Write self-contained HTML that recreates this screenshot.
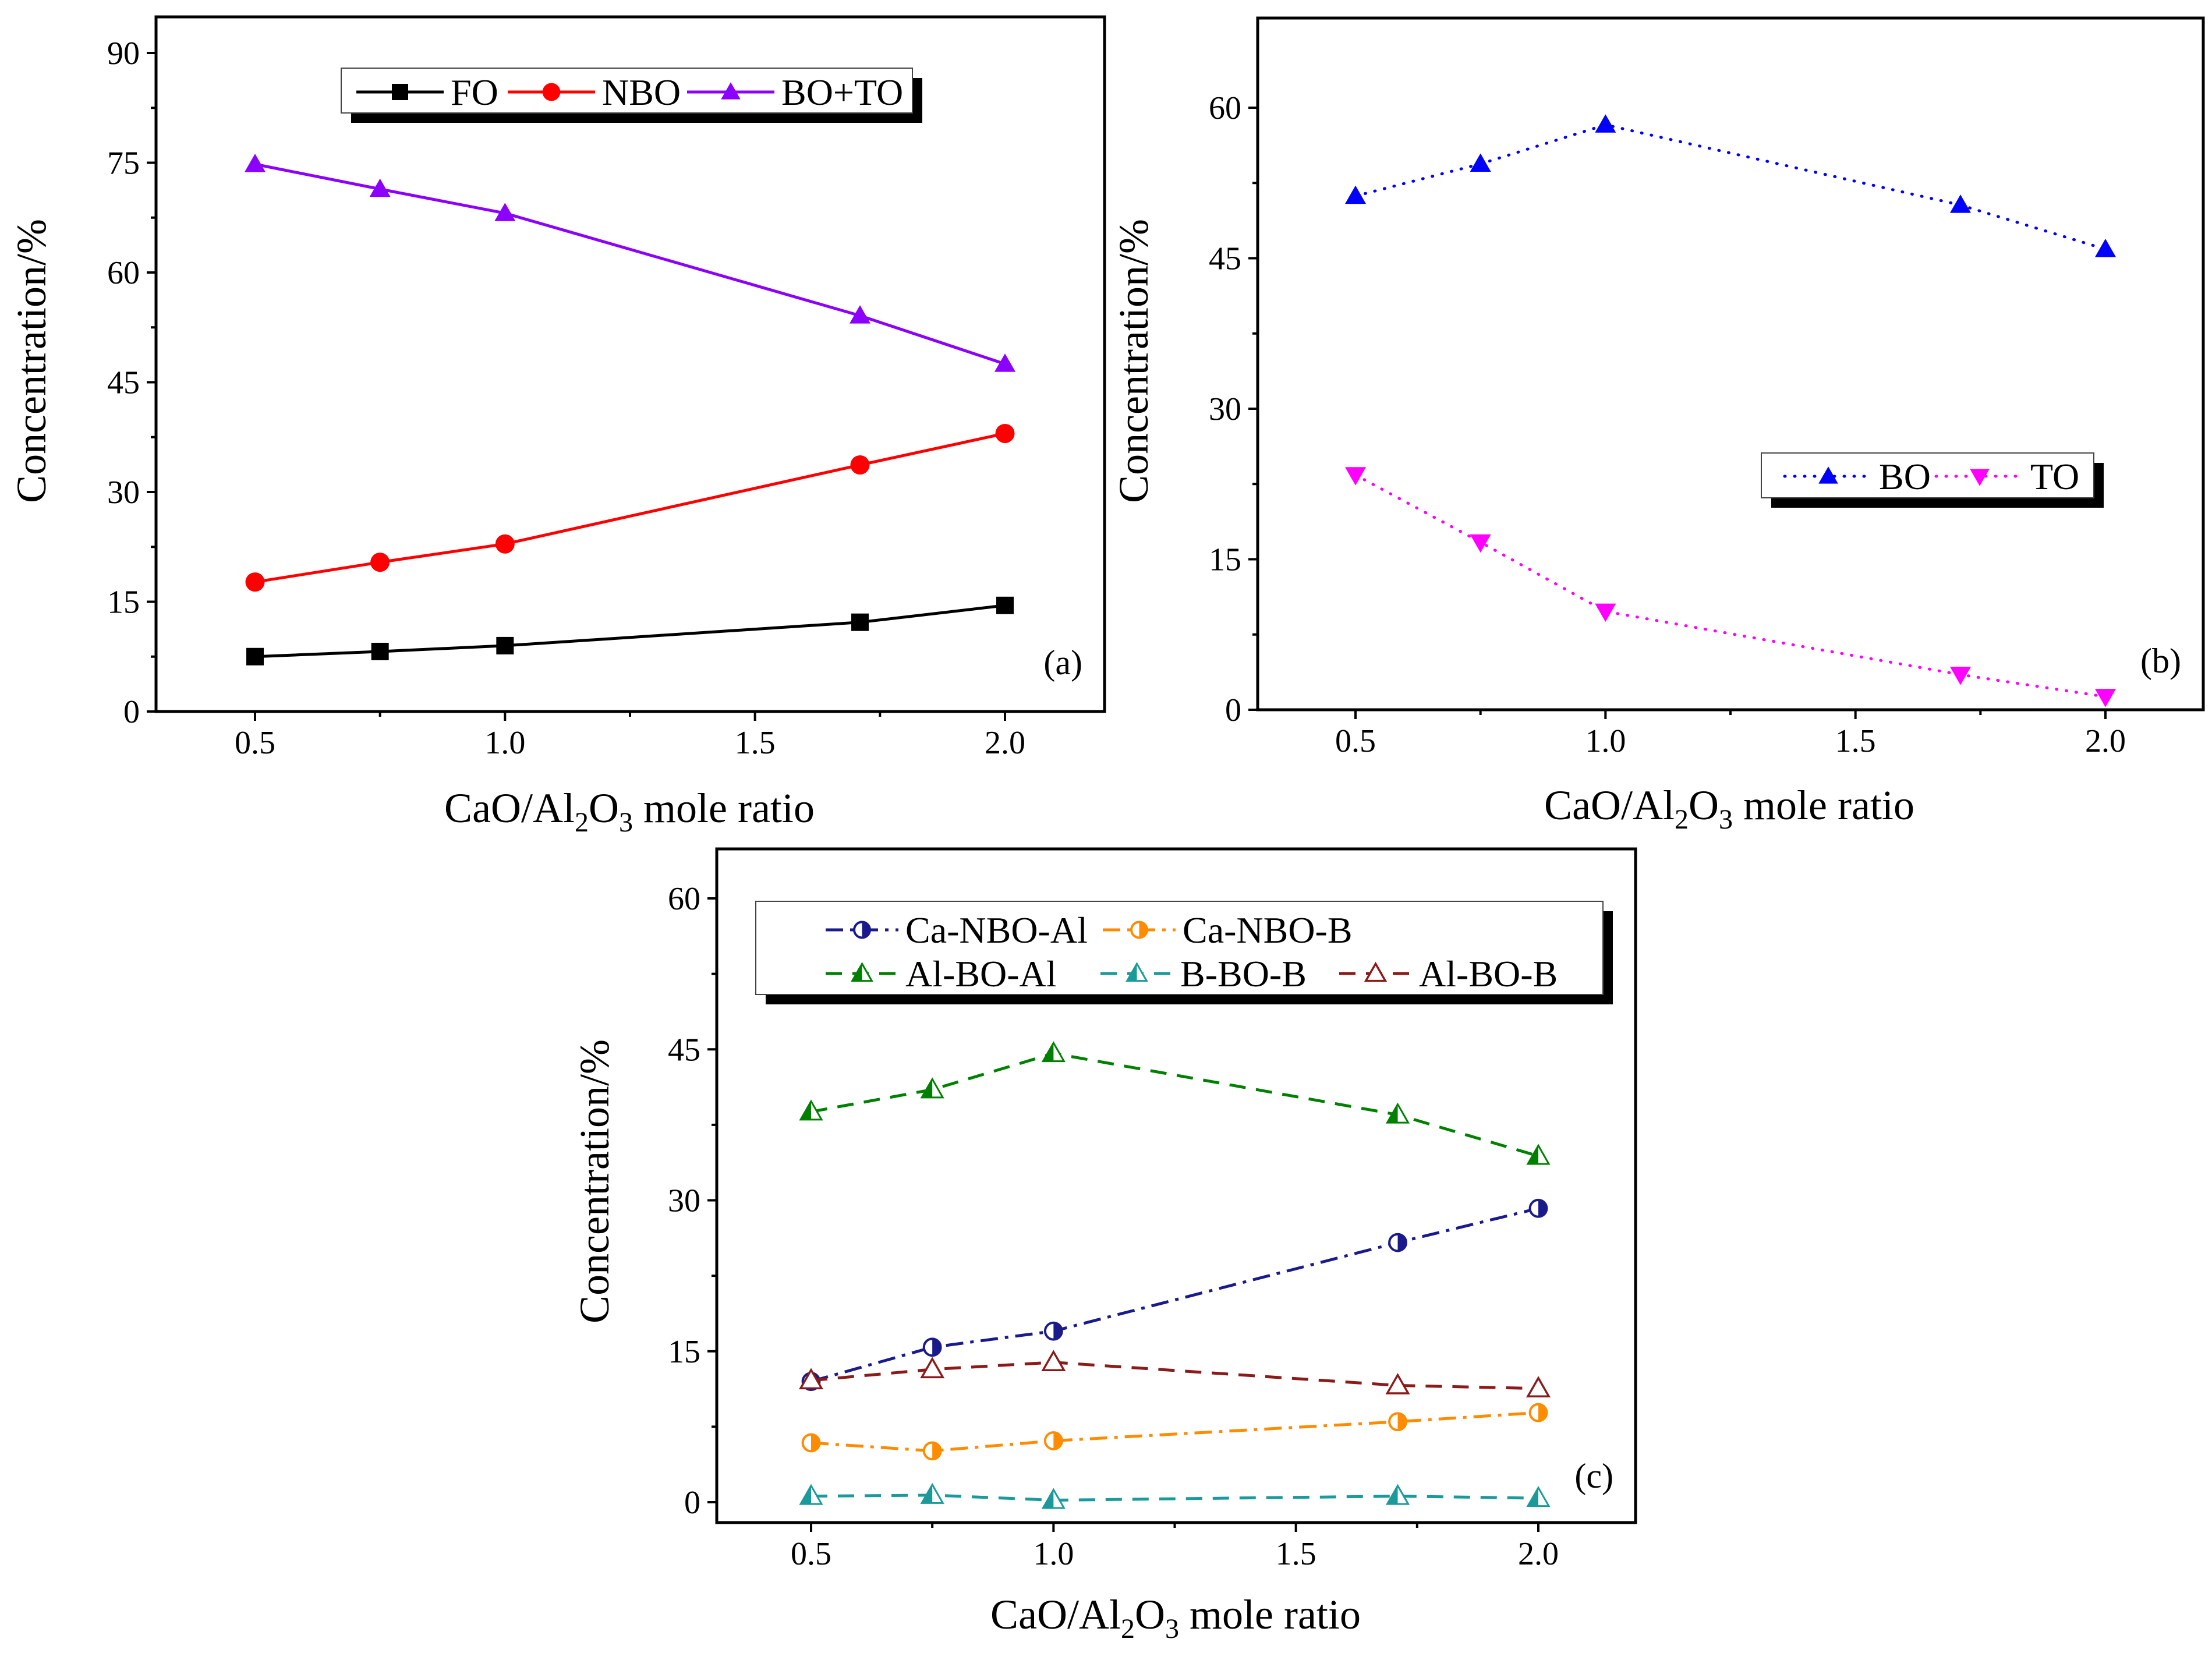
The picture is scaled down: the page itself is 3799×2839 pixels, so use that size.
<!DOCTYPE html>
<html><head><meta charset="utf-8"><style>
html,body{margin:0;padding:0;background:#fff}
svg{display:block}
svg text{font-family:"Liberation Serif","DejaVu Serif","Times New Roman",Times,serif}
</style></head><body>
<svg id="fig" width="3799" height="2839" viewBox="0 0 3799 2839" xmlns="http://www.w3.org/2000/svg"></svg>
<script>
const xCats=[0.5,0.75,1.0,1.71,2.0];
const xTickVals=[0.5,1.0,1.5,2.0];
const xTickLabels=['0.5','1.0','1.5','2.0'];
// panel a
const aTicks=[0,15,30,45,60,75,90];
const aFO=[7.5,8.2,9.0,12.2,14.5];
const aNBO=[17.7,20.4,22.9,33.7,38.0];
const aBOTO=[74.8,71.4,68.1,54.1,47.5];
// panel b
const bTicks=[0,15,30,45,60];
const bBO=[51.2,54.4,58.3,50.3,45.9];
const bTO=[23.4,16.7,9.8,3.5,1.3];
// panel c
const cTicks=[0,15,30,45,60];
const cCaNBOAl=[12.0,15.4,17.0,25.8,29.2];
const cCaNBOB=[5.9,5.1,6.1,8.0,8.9];
const cAlBOAl=[38.8,41.0,44.6,38.5,34.4];
const cBBOB=[0.6,0.7,0.2,0.6,0.4];
const cAlBOB=[12.1,13.2,13.9,11.6,11.3];

const NS='http://www.w3.org/2000/svg';
const svg=document.getElementById('fig');
function el(tag,attrs,parent,text){const e=document.createElementNS(NS,tag);for(const k in attrs)e.setAttribute(k,attrs[k]);if(tag==='text')e.style.fontFamily='"Liberation Serif","DejaVu Serif","Times New Roman",serif';if(text!==undefined)e.textContent=text;(parent||svg).appendChild(e);return e;}

function marker(g,kind,x,y,color,s){
  let m;
  if(kind==='square'){m=el('rect',{x:x-s*0.5,y:y-s*0.5,width:s,height:s,fill:color},g);}
  else if(kind==='circle'){m=el('circle',{cx:x,cy:y,r:s*0.55,fill:color},g);}
  else if(kind==='tri'){m=el('polygon',{points:`${x},${y-s*0.6} ${x-s*0.6},${y+s*0.45} ${x+s*0.6},${y+s*0.45}`,fill:color},g);}
  else if(kind==='dtri'){m=el('polygon',{points:`${x},${y+s*0.6} ${x-s*0.6},${y-s*0.45} ${x+s*0.6},${y-s*0.45}`,fill:color},g);}
  else if(kind==='halfcircle'){
    m=el('g',{},g);
    el('circle',{cx:x,cy:y,r:s*0.48,fill:'#fff',stroke:color,'stroke-width':4},m);
    el('path',{d:`M${x},${y-s*0.48} A${s*0.48},${s*0.48} 0 0 1 ${x},${y+s*0.48} Z`,fill:color},m);
  }
  else if(kind==='halftri'){
    m=el('g',{},g);
    el('polygon',{points:`${x},${y-s*0.6} ${x-s*0.6},${y+s*0.45} ${x+s*0.6},${y+s*0.45}`,fill:'#fff',stroke:color,'stroke-width':3},m);
    el('polygon',{points:`${x},${y-s*0.6} ${x-s*0.6},${y+s*0.45} ${x},${y+s*0.45}`,fill:color},m);
  }
  else if(kind==='opentri'){m=el('polygon',{points:`${x},${y-s*0.6} ${x-s*0.6},${y+s*0.45} ${x+s*0.6},${y+s*0.45}`,fill:'#fff',stroke:color,'stroke-width':3.5},g);}
  return m;
}

function panel(cfg){
  const g=el('g',{});
  
  
  const X=v=>cfg.x0+(v-0.5)*(cfg.x1-cfg.x0)/1.5;
  const Y=v=>cfg.y0+(v-cfg.vmin)*(cfg.yTop-cfg.y0)/(cfg.vmax-cfg.vmin);
  const f=el('rect',{x:cfg.L,y:cfg.T,width:cfg.R-cfg.L,height:cfg.B-cfg.T,fill:'#fff',stroke:'#000','stroke-width':5},g);
  
  const step=cfg.yTicks[1]-cfg.yTicks[0];
  cfg.yTicks.forEach((t,i)=>{
    const y=Y(t);
    el('line',{x1:cfg.L-16,y1:y,x2:cfg.L,y2:y,stroke:'#000','stroke-width':4},g);
    const tl=el('text',{x:cfg.L-28,y:y+19,'text-anchor':'end','font-size':56},g,String(t));
    
    if(i<cfg.yTicks.length-1){const ym=Y(t+step/2);el('line',{x1:cfg.L-9,y1:ym,x2:cfg.L,y2:ym,stroke:'#000','stroke-width':4},g);}
  });
  xTickVals.forEach((v,i)=>{
    const x=X(v);
    el('line',{x1:x,y1:cfg.B,x2:x,y2:cfg.B+16,stroke:'#000','stroke-width':4},g);
    const tl=el('text',{x:x,y:cfg.B+72,'text-anchor':'middle','font-size':56},g,xTickLabels[i]);
    
    if(i<xTickVals.length-1){const xm=X(v+0.25);el('line',{x1:xm,y1:cfg.B,x2:xm,y2:cfg.B+9,stroke:'#000','stroke-width':4},g);}
  });
  const xt=el('text',{x:cfg.xtX,y:cfg.xtY,'text-anchor':'middle','font-size':72},g);
  
  xt.innerHTML='CaO/Al<tspan font-size="48" dy="16">2</tspan><tspan dy="-16">O</tspan><tspan font-size="48" dy="16">3</tspan><tspan dy="-16"> mole ratio</tspan>';
  const yt=el('text',{x:0,y:0,'text-anchor':'middle','font-size':72,transform:`translate(${cfg.ytX},${cfg.ytY}) rotate(-90)`},g,'Concentration/%');
  
  const pl=el('text',{x:cfg.R-38,y:cfg.labY,'text-anchor':'end','font-size':60},g,cfg.label);
  
  cfg.series.forEach(s=>{
    const sg=el('g',{},g);
    
    const pts=s.data.map((v,i)=>X(xCats[i])+','+Y(v)).join(' ');
    const ln=el('polyline',{points:pts,fill:'none',stroke:s.color,'stroke-width':5,'stroke-dasharray':s.dash||'none','stroke-linecap':s.cap||'butt'},sg);
    
    s.data.forEach((v,i)=>{
      const m=marker(sg,s.marker,X(xCats[i]),Y(v),s.color,30);
      
    });
  });
  const lg=el('g',{},g);
  
  const Lb=cfg.legend;
  el('rect',{x:Lb.x+17,y:Lb.y+17,width:Lb.w,height:Lb.h,fill:'#000'},lg);
  el('rect',{x:Lb.x,y:Lb.y,width:Lb.w,height:Lb.h,fill:'#fff',stroke:'#444','stroke-width':2},lg);
  Lb.items.forEach(it=>{
    const s=cfg.series.find(q=>q.key===it.key);
    const eg=el('g',{},lg);
    
    el('line',{x1:it.x,y1:it.y,x2:it.x+it.len,y2:it.y,stroke:s.color,'stroke-width':5,'stroke-dasharray':s.dash||'none','stroke-linecap':s.cap||'butt'},eg);
    marker(eg,s.marker,it.x+it.len/2,it.y,s.color,28);
    el('text',{x:it.x+it.len+12,y:it.y+22,'font-size':64},eg,s.name);
  });
}

panel({name:'panel-a',L:268,R:1897,T:29,B:1222,x0:438,x1:1726,y0:1222,yTop:91,vmin:0,vmax:90,yTicks:aTicks,
  xtX:1081,xtY:1412,ytX:78,ytY:620,label:'(a)',labY:1158,
  series:[
    {key:'fo',name:'FO',data:aFO,color:'#000',marker:'square'},
    {key:'nbo',name:'NBO',data:aNBO,color:'#ff0000',marker:'circle'},
    {key:'bo-to',name:'BO+TO',data:aBOTO,color:'#8b00ff',marker:'tri'}],
  legend:{x:586,y:117,w:981,h:77,items:[
    {key:'fo',x:612,y:158,len:150},{key:'nbo',x:872,y:158,len:150},{key:'bo-to',x:1180,y:158,len:150}]}
});
panel({name:'panel-b',L:2160,R:3784,T:31,B:1219,x0:2328,x1:3616,y0:1219,yTop:185,vmin:0,vmax:60,yTicks:bTicks,
  xtX:2970,xtY:1407,ytX:1971,ytY:620,label:'(b)',labY:1155,
  series:[
    {key:'bo',name:'BO',data:bBO,color:'#0000ff',marker:'tri',dash:'1 16',cap:'round'},
    {key:'to',name:'TO',data:bTO,color:'#ff00ff',marker:'dtri',dash:'1 16',cap:'round'}],
  legend:{x:3025,y:778,w:571,h:77,items:[
    {key:'bo',x:3065,y:818,len:150},{key:'to',x:3325,y:818,len:150}]}
});
panel({name:'panel-c',L:1231,R:2809,T:1458,B:2615,x0:1393,x1:2642,y0:2580,yTop:1543,vmin:0,vmax:60,yTicks:cTicks,
  xtX:2019,xtY:2797,ytX:1045,ytY:2029,label:'(c)',labY:2555,
  series:[
    {key:'ca-nbo-al',name:'Ca-NBO-Al',data:cCaNBOAl,color:'#1a1a8c',marker:'halfcircle',dash:'30 12 6 12'},
    {key:'ca-nbo-b',name:'Ca-NBO-B',data:cCaNBOB,color:'#ff8c00',marker:'halfcircle',dash:'30 12 6 12'},
    {key:'al-bo-al',name:'Al-BO-Al',data:cAlBOAl,color:'#008000',marker:'halftri',dash:'28 18'},
    {key:'b-bo-b',name:'B-BO-B',data:cBBOB,color:'#1a9a9a',marker:'halftri',dash:'28 18'},
    {key:'al-bo-b',name:'Al-BO-B',data:cAlBOB,color:'#8b1a1a',marker:'opentri',dash:'28 18'}],
  legend:{x:1298,y:1548,w:1455,h:160,items:[
    {key:'ca-nbo-al',x:1418,y:1597,len:125},{key:'ca-nbo-b',x:1894,y:1597,len:125},
    {key:'al-bo-al',x:1418,y:1672,len:125},{key:'b-bo-b',x:1890,y:1672,len:125},{key:'al-bo-b',x:2300,y:1672,len:125}]}
});
</script>
</body></html>
